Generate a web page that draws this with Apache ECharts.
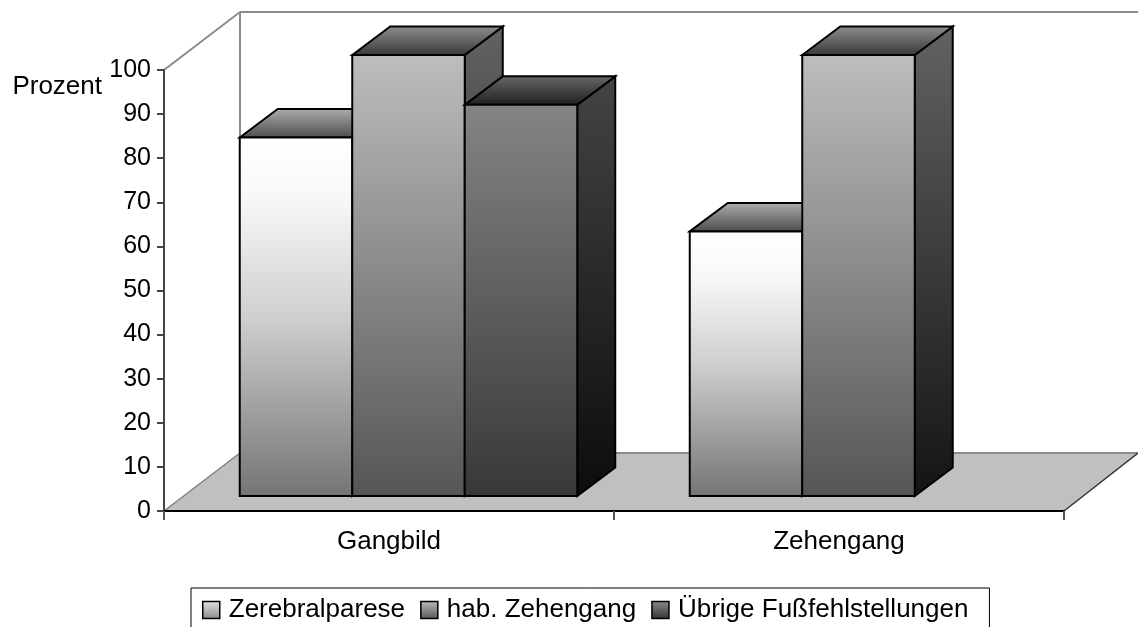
<!DOCTYPE html>
<html><head><meta charset="utf-8">
<style>html,body{margin:0;padding:0;background:#fff}#c{width:1138px;height:627px}</style>
<script src="https://cdn.jsdelivr.net/npm/echarts@6/dist/echarts.min.js"></script>
</head><body><div id="c"></div>
<script>
const categories = ['Gangbild', 'Zehengang'];
const seriesNames = ['Zerebralparese', 'hab. Zehengang', 'Übrige Fußfehlstellungen'];
const zerebralparese = [81.3, 60];
const habZehengang = [100, 100];
const uebrige = [88.7, null];
const yTicks = {min: 0, max: 100, interval: 10};

const FONT = '"Liberation Sans", Arial, sans-serif';
const grad = (stops) => ({type:'linear',x:0,y:0,x2:0,y2:1,colorStops:stops.map((c,i)=>({offset:c[0],color:c[1]}))});
const palette = [
  {front:[[0,'#ffffff'],[0.17,'#f8f8f8'],[0.5,'#cfcfcf'],[1,'#747474']], side:[[0,'#8a8a8a'],[1,'#333333']], top:[[0,'#b0b0b0'],[1,'#4a4a4a']], legend:[[0,'#e4e4e4'],[1,'#8a8a8a']]},
  {front:[[0,'#bdbdbd'],[1,'#555555']], side:[[0,'#626262'],[1,'#141414']], top:[[0,'#8e8e8e'],[1,'#383838']], legend:[[0,'#bcbcbc'],[1,'#555555']]},
  {front:[[0,'#848484'],[1,'#383838']], side:[[0,'#444444'],[1,'#0c0c0c']], top:[[0,'#686868'],[1,'#1e1e1e']], legend:[[0,'#8c8c8c'],[1,'#333333']]}
];
const DX = 38, DY = 28.5, LIFT = 15, SHIFT = 19.5;
const WALL_DX = 76, WALL_DY = 58;

function barRender(idx){
  return function(params, api){
    const v = api.value(1);
    if (v === null || v === undefined || isNaN(v)) return;
    const c = api.coord([api.value(0), 0]);
    const t = api.coord([api.value(0), v]);
    const band = api.size([1, 0])[0];
    const bw = band / 4;
    const x0 = c[0] + SHIFT - 1.5*bw + idx*bw;
    const x1 = x0 + bw;
    const yb = c[1] - LIFT;
    const yt = t[1] - LIFT;
    const p = palette[idx];
    const line = {stroke:'#000', lineWidth:2, lineJoin:'miter'};
    return {type:'group', children:[
      {type:'polygon', shape:{points:[[x1,yt],[x1+DX,yt-DY],[x1+DX,yb-DY],[x1,yb]]}, style:Object.assign({fill:grad(p.side)},line)},
      {type:'polygon', shape:{points:[[x0,yt],[x0+DX,yt-DY],[x1+DX,yt-DY],[x1,yt]]}, style:Object.assign({fill:grad(p.top)},line)},
      {type:'rect', shape:{x:x0,y:yt,width:bw,height:yb-yt}, style:Object.assign({fill:grad(p.front)},line)}
    ]};
  };
}
function wallRender(params, api){
  const g = params.coordSys;
  const l = g.x, r = g.x+g.width, b = g.y+g.height, t = g.y;
  const s = {stroke:'#8c8c8c', lineWidth:2, fill:null};
  return {type:'group', silent:true, children:[
    {type:'polygon', shape:{points:[[l,b],[r,b],[r+WALL_DX-2,b-WALL_DY],[l+WALL_DX,b-WALL_DY]]}, style:{fill:'#c0c0c0'}},
    {type:'line', shape:{x1:l+WALL_DX,y1:b-WALL_DY,x2:r+WALL_DX,y2:b-WALL_DY}, style:s},
    {type:'line', shape:{x1:l+WALL_DX,y1:t-WALL_DY,x2:r+WALL_DX,y2:t-WALL_DY}, style:s},
    {type:'line', shape:{x1:l+WALL_DX,y1:t-WALL_DY,x2:l+WALL_DX,y2:b-WALL_DY}, style:s},
    {type:'line', shape:{x1:l,y1:t,x2:l+WALL_DX,y2:t-WALL_DY}, style:s},
    {type:'line', shape:{x1:l,y1:b,x2:l+WALL_DX,y2:b-WALL_DY}, style:{stroke:'#808080',lineWidth:1.5}},
    {type:'line', shape:{x1:r,y1:b,x2:r+WALL_DX-2,y2:b-WALL_DY}, style:{stroke:'#333',lineWidth:1.5}}
  ]};
}
const valueSets = [zerebralparese, habZehengang, uebrige];
const chart = echarts.init(document.getElementById('c'), null, {renderer:'canvas'});
chart.setOption({
  animation:false,
  backgroundColor:'#fff',
  grid:{left:164, top:70, width:900, height:441, containLabel:false},
  xAxis:{type:'category', data:categories, z:5,
    axisLine:{lineStyle:{color:'#000',width:2}},
    axisTick:{show:true,length:9,lineStyle:{color:'#555',width:2}},
    axisLabel:{color:'#000',fontSize:26,fontFamily:FONT,margin:18},
    splitLine:{show:false}},
  yAxis:{type:'value', min:yTicks.min, max:yTicks.max, interval:yTicks.interval, z:5,
    name:'Prozent', nameLocation:'end', nameGap:-17,
    nameTextStyle:{color:'#000',fontSize:26,fontFamily:FONT,align:'right',verticalAlign:'middle',padding:[0,62,0,0]},
    axisLine:{show:true,lineStyle:{color:'#444',width:2}},
    axisTick:{show:true,length:7,lineStyle:{color:'#444',width:2}},
    axisLabel:{color:'#000',fontSize:25,fontFamily:FONT,margin:13},
    splitLine:{show:false}},
  legend:{
    left:191, top:588, orient:'horizontal', show:true,
    data:seriesNames.map((n,i)=>({name:n, icon:'rect', itemStyle:{color:grad(palette[i].legend),borderColor:'#000',borderWidth:1.5}})),
    itemWidth:17, itemHeight:17, itemGap:15,
    padding:[9,21,21,11],
    borderColor:'#000', borderWidth:1, backgroundColor:'#fff',
    textStyle:{color:'#000',fontSize:26,fontFamily:FONT,padding:[0,0,0,4]}
  },
  series:[
    {type:'custom', name:'wall', silent:true, z:1, data:[[0,0]], renderItem:wallRender, encode:{x:0,y:1}}
  ].concat(seriesNames.map((n,i)=>({
    type:'custom', name:n, z:2+i, renderItem:barRender(i), encode:{x:0,y:1},
    itemStyle:{color:'#888'},
    data:valueSets[i].map((v,j)=>[j,v])
  })))
});
</script></body></html>
